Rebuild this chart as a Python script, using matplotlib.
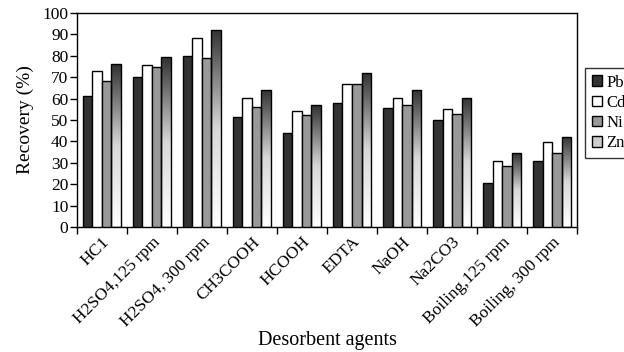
import numpy as np
import matplotlib
matplotlib.use("Agg")
import matplotlib.pyplot as plt
from matplotlib.colors import LinearSegmentedColormap
from matplotlib.patches import Patch

plt.rcParams['font.family'] = ['Liberation Serif', 'DejaVu Serif']

agents = ['HC1', 'H2SO4,125 rpm', 'H2SO4, 300 rpm', 'CH3COOH', 'HCOOH',
          'EDTA', 'NaOH', 'Na2CO3', 'Boiling,125 rpm', 'Boiling, 300 rpm']
metals = ['Pb', 'Cd', 'Ni', 'Zn']
pb = [61.4, 70.3, 79.9, 51.3, 44.0, 58.0, 55.4, 50.2, 20.5, 31.0]
cd = [73.1, 75.9, 88.3, 60.3, 54.0, 66.7, 60.3, 55.2, 31.0, 39.8]
ni = [68.3, 74.8, 79.1, 56.3, 52.2, 66.7, 56.8, 52.7, 28.3, 34.8]
zn = [76.0, 79.3, 92.2, 64.2, 56.9, 72.2, 64.2, 60.3, 34.4, 42.3]
yticks = list(range(0, 101, 10))

fig = plt.figure(figsize=(6.24, 3.52), dpi=100)
ax = fig.add_axes([0.123, 0.355, 0.802, 0.608])

x = np.arange(len(agents))
w = 0.19
series = [pb, cd, ni, zn]
faces = ['#333333', 'white', '#999999', 'none']
# Zn bars fade from dark at the top to white at the bottom
grad = LinearSegmentedColormap.from_list('g', ['white', '#d8d8d8', '#333333'])

for k, (vals, fc) in enumerate(zip(series, faces)):
    pos = x + (k - 1.5) * w
    bars = ax.bar(pos, vals, width=w, color=fc, edgecolor='black', linewidth=1.0, zorder=3)
    if k == 3:
        for b in bars:
            x0, y0 = b.get_x(), b.get_y()
            im = ax.imshow(np.linspace(0, 1, 100).reshape(-1, 1), cmap=grad,
                           origin='lower', aspect='auto', zorder=2,
                           extent=[x0, x0 + b.get_width(), y0, y0 + b.get_height()])
            im.set_clip_path(b)

ax.set_xlim(-0.5, len(agents) - 0.5)
ax.set_ylim(0, 100)
ax.set_yticks(yticks)
ax.tick_params(axis='y', labelsize=12.5, direction='out', length=5, width=1, pad=1)
ax.set_xticks(x)
ax.set_xticklabels(agents, rotation=45, ha='right', rotation_mode='anchor', fontsize=12.5)
ax.tick_params(axis='x', which='major', length=0, pad=5)
ax.set_xticks(np.arange(-0.5, len(agents), 1), minor=True)
ax.tick_params(axis='x', which='minor', direction='out', length=5, width=1)
for s in ax.spines.values():
    s.set_linewidth(1.0)

ax.set_ylabel('Recovery (%)', fontsize=14, labelpad=6)
ax.set_xlabel('Desorbent agents', fontsize=14.5, labelpad=1)

handles = [Patch(facecolor='#333333', edgecolor='black'),
           Patch(facecolor='white', edgecolor='black'),
           Patch(facecolor='#999999', edgecolor='black'),
           Patch(facecolor='#cccccc', edgecolor='black')]
fig.legend(handles, metals, loc='upper left', bbox_to_anchor=(0.9375, 0.807),
           fontsize=12, frameon=True, fancybox=False, edgecolor='black',
           handlelength=0.6, handleheight=0.6, handletextpad=0.3, labelspacing=0.25,
           borderpad=0.4, borderaxespad=0)

fig.savefig('out.png', dpi=100)
